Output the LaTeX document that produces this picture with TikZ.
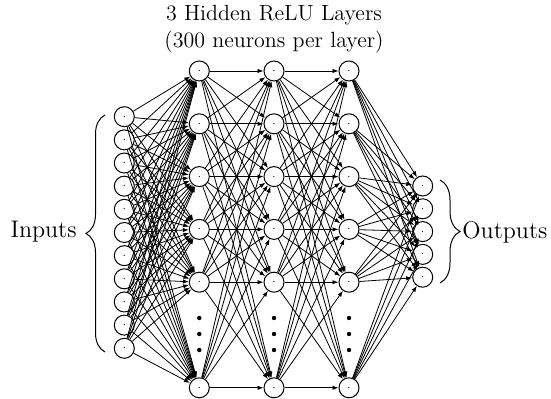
\documentclass[tikz,border=0pt]{standalone}
\usetikzlibrary{arrows.meta,decorations.pathreplacing}
\begin{document}
\begin{tikzpicture}[x=0.5pt,y=-0.5pt,
  neuron/.style={circle,draw,line width=0.5pt,minimum size=10pt,inner sep=0pt,fill=white,font=\tiny},
  conn/.style={-{Latex[length=3pt,width=2.2pt]},line width=0.4pt},
  lbl/.style={font=\fontsize{12}{14}\selectfont,inner sep=0pt},
  ttl/.style={font=\fontsize{11}{13.5}\selectfont},
  vdot/.style={circle,fill=black,inner sep=0pt,minimum size=2.2pt},
  brc/.style={decorate,line width=0.5pt}]
\useasboundingbox (0,0) rectangle (551,399);
% inputs
\foreach \j in {1,...,11}
  \node[neuron] (i\j) at (124.3,{116.7+23.16*(\j-1)}) {$\cdot$};
% hidden layers
\foreach \l/\x in {1/199.3,2/274,3/349}{
  \foreach \k/\p in {1/0,2/1,3/2,4/3,5/4,6/6}
    \node[neuron] (h\l\k) at (\x,{71+52.8*\p}) {$\cdot$};
  \foreach \d [count=\c] in {318,334,350}
    \node[vdot] (dot\l\c) at (\x,\d) {};
}
% outputs
\foreach \j in {1,...,5}
  \node[neuron] (o\j) at (422.7,{186+22.8*(\j-1)}) {$\cdot$};
% connections
\foreach \j in {1,...,11}
  \foreach \k in {1,...,6}
    \draw[conn] (i\j) -- (h1\k);
\foreach \a/\b in {1/2,2/3}
  \foreach \k in {1,...,6}
    \foreach \m in {1,...,6}
      \draw[conn] (h\a\k) -- (h\b\m);
\foreach \k in {1,...,6}
  \foreach \j in {1,...,5}
    \draw[conn] (h3\k) -- (o\j);
% braces and labels
\coordinate (ib1) at (105,352);
\coordinate (ib2) at (105,115);
\draw[brc,decoration={brace,amplitude=9.5pt}] (ib1) -- (ib2);
\node[lbl,anchor=east] (inlbl) at (77,232) {Inputs};
\coordinate (ob1) at (440,180);
\coordinate (ob2) at (440,283);
\draw[brc,decoration={brace,amplitude=10pt}] (ob1) -- (ob2);
\node[lbl,anchor=west] (outlbl) at (462,232) {Outputs};
\node[ttl,align=center] (title) at (274,29.5) {3 Hidden ReLU Layers\\(300 neurons per layer)};
\end{tikzpicture}
\end{document}
